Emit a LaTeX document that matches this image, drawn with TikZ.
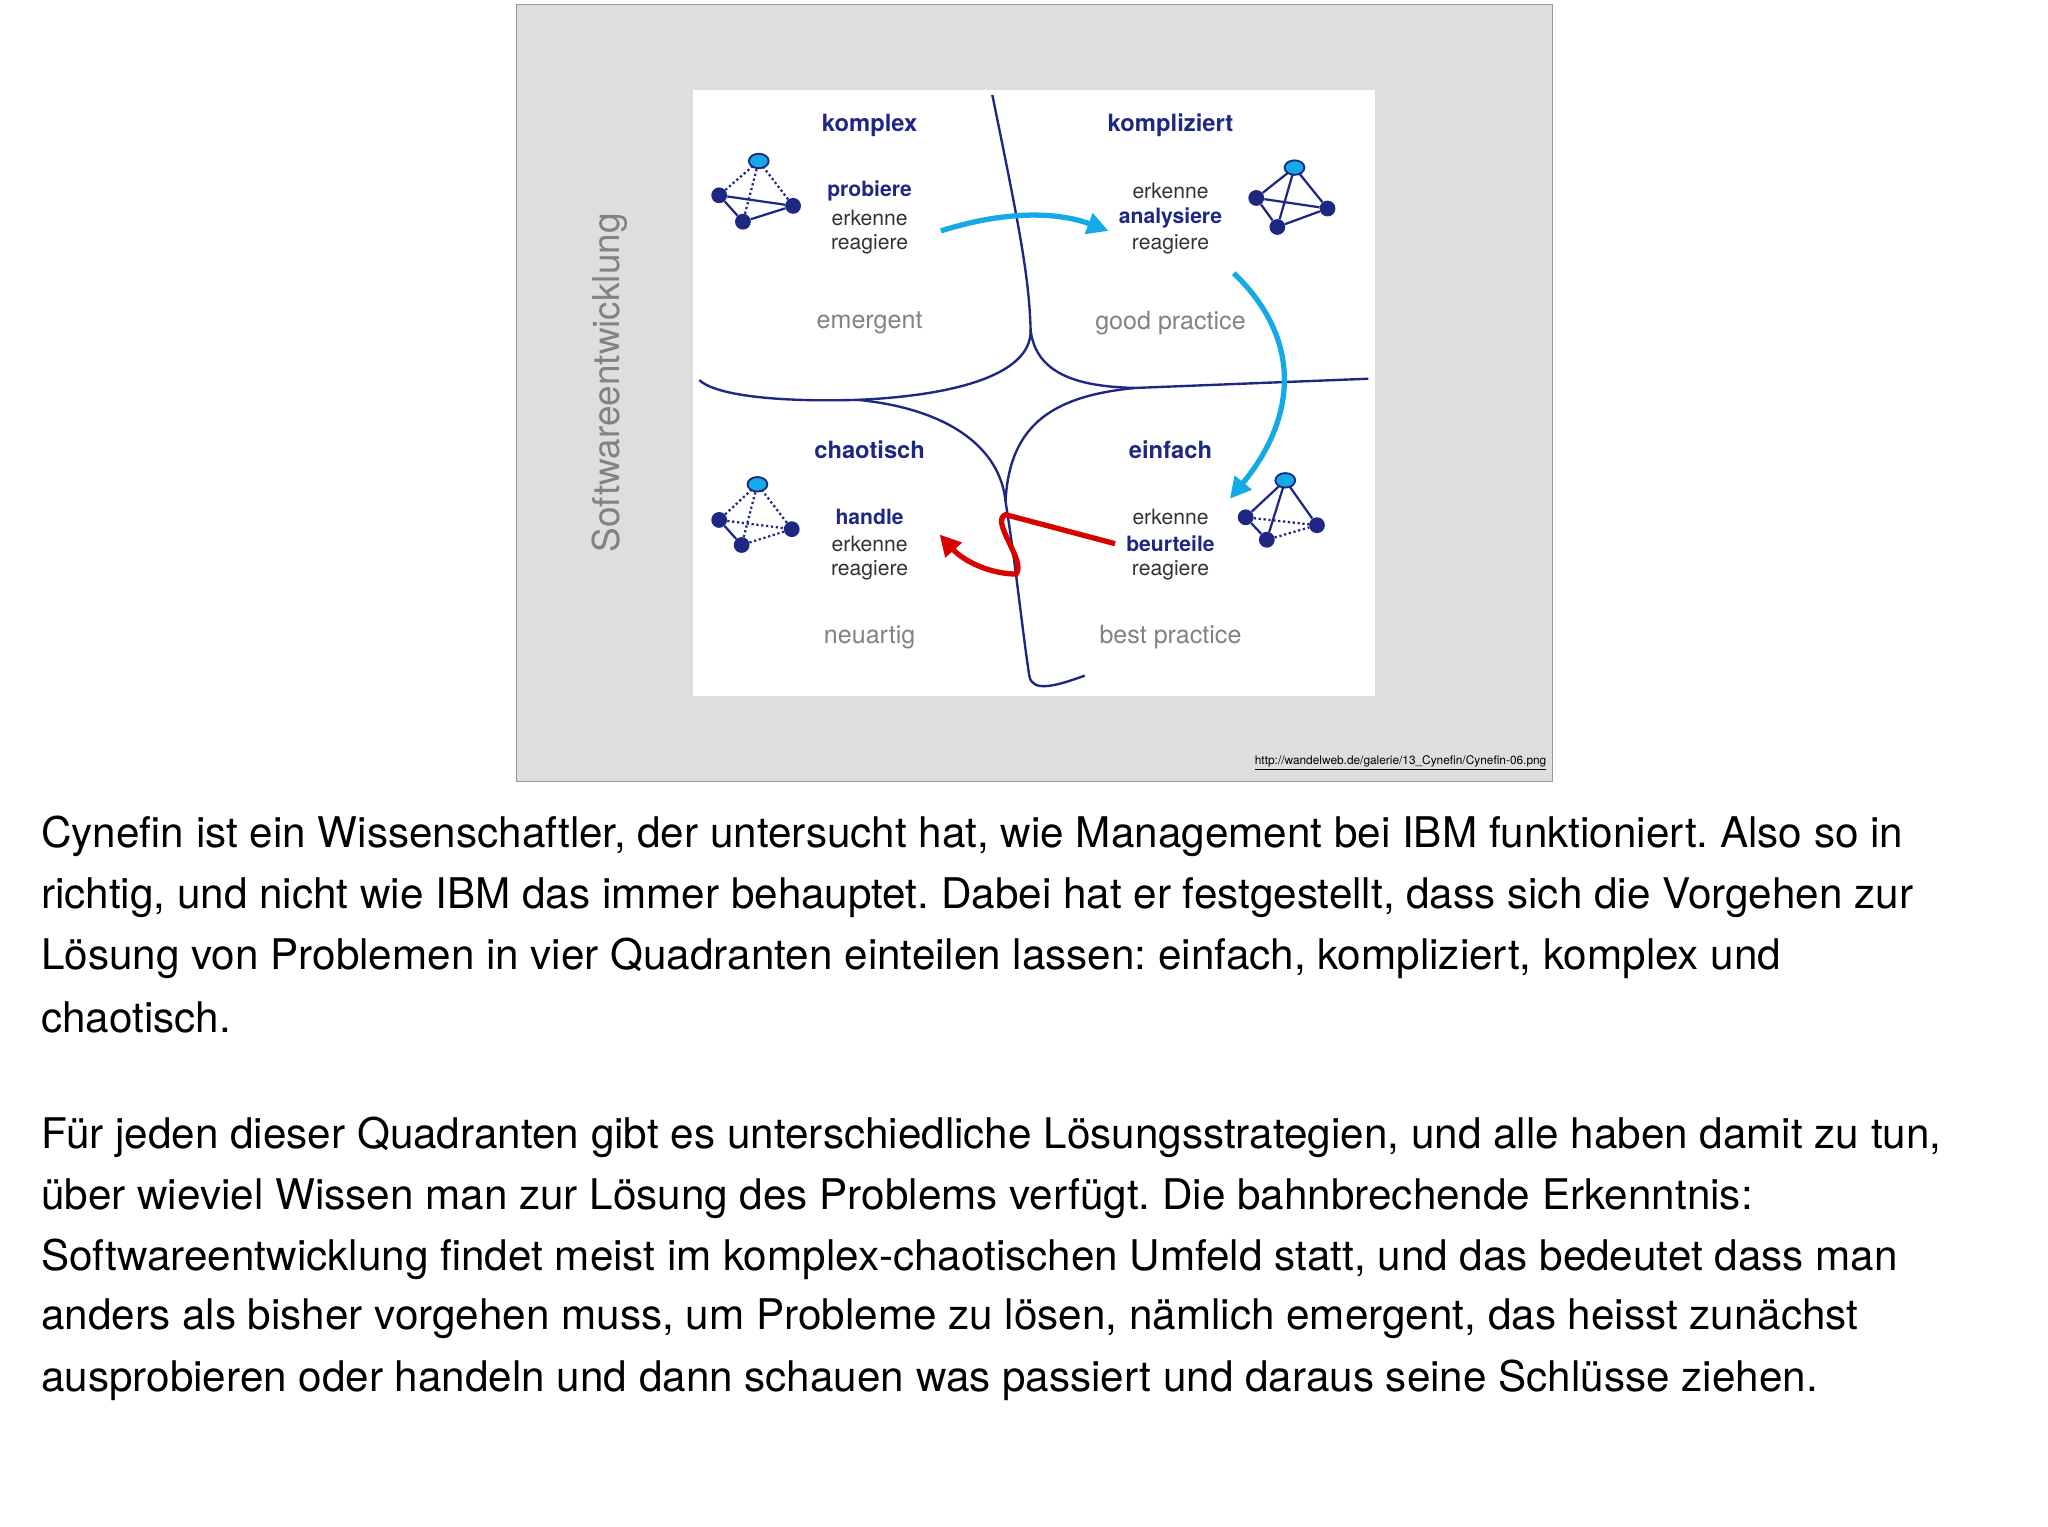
\documentclass[tikz,border=0pt]{standalone}
\usepackage{fontspec}
\setmainfont{TeX Gyre Heros}
\usetikzlibrary{arrows.meta,shapes.geometric}
\definecolor{dblue}{RGB}{30,40,130}
\definecolor{cyanb}{RGB}{20,170,230}
\definecolor{lgray}{RGB}{222,222,222}
\definecolor{tgray}{RGB}{130,130,130}
\frenchspacing
\begin{document}
\begin{tikzpicture}[x=1pt,y=-1pt,
 body/.style={anchor=west,inner sep=0pt,font=\fontsize{32}{32}\selectfont},
 qhead/.style={font=\fontsize{18}{18}\selectfont\bfseries,text=dblue},
 item/.style={font=\fontsize{16}{16}\selectfont,text=black!80},
 hitem/.style={font=\fontsize{16}{16}\selectfont\bfseries,text=dblue},
 gitem/.style={font=\fontsize{19}{19}\selectfont,text=tgray},
 line/.style={draw=dblue,line width=1.8pt},
 vtx/.style={circle,fill=dblue,inner sep=0pt,minimum size=12pt},
 apex/.style={ellipse,fill=cyanb,draw=dblue,line width=1.4pt,inner sep=0pt,minimum width=15pt,minimum height=11pt},
 sol/.style={draw=dblue,line width=1.7pt},
 dot/.style={draw=dblue,line width=1.7pt,dotted}]
\useasboundingbox (0,0) rectangle (1552,1157);
\fill[white] (0,0) rectangle (1552,1157);
\node[draw=gray!80,fill=lgray,minimum width=785pt,minimum height=589pt,anchor=north west,inner sep=0pt] (frame) at (391,3) {};
\node[fill=white,minimum width=517pt,minimum height=459pt,anchor=north west,inner sep=0pt] (inner) at (525,68) {};
\node[rotate=90,text=tgray,font=\fontsize{28}{28}\selectfont] (sw) at (462,290) {Softwareentwicklung};
\node[anchor=east,font=\fontsize{9}{9}\selectfont,inner sep=0pt] (url) at (1172,578) {\underline{http://wandelweb.de/galerie/13\_Cynefin/Cynefin-06.png}};
% boundaries
\coordinate (t0) at (752,72); \coordinate (tc) at (781,250);
\coordinate (lj) at (650,303); \coordinate (rj) at (860,294);
\coordinate (bc) at (762,380);
\draw[line] (t0) .. controls (772,170) and (780,210) .. (tc) .. controls (782,285) and (720,300) .. (lj) .. controls (580,305) and (540,298) .. (530,288);
\draw[line] (tc) .. controls (785,285) and (820,293) .. (rj) -- (1037,287);
\draw[line] (lj) .. controls (720,310) and (758,340) .. (bc) .. controls (770,430) and (775,480) .. (780,512) .. controls (782,525) and (800,520) .. (822,512);
\draw[line] (rj) .. controls (800,300) and (765,320) .. (bc);
% labels
\node[qhead] (k1) at (659,95) {komplex};
\node[qhead] (k2) at (887,95) {kompliziert};
\node[qhead] (k3) at (659,341) {chaotisch};
\node[qhead] (k4) at (887,341) {einfach};
\node[hitem] (a1) at (659,145) {probiere};
\node[item] (a2) at (659,165) {erkenne};
\node[item] (a3) at (659,185) {reagiere};
\node[item] (b1) at (887,145) {erkenne};
\node[hitem] (b2) at (887,165) {analysiere};
\node[item] (b3) at (887,185) {reagiere};
\node[hitem] (c1) at (659,392) {handle};
\node[item] (c2) at (659,412) {erkenne};
\node[item] (c3) at (659,432) {reagiere};
\node[item] (d1) at (887,392) {erkenne};
\node[hitem] (d2) at (887,412) {beurteile};
\node[item] (d3) at (887,432) {reagiere};
\node[gitem] (g1) at (659,245) {emergent};
\node[gitem] (g2) at (887,245) {good practice};
\node[gitem] (g3) at (659,483) {neuartig};
\node[gitem] (g4) at (887,483) {best practice};
% arrows
\draw[cyanb,line width=4pt,-{Triangle[length=16pt,width=16pt]}] (713,175) .. controls (760,160) and (800,160) .. (840,175);
\draw[cyanb,line width=4pt,-{Triangle[length=16pt,width=16pt]}] (935,207) .. controls (990,260) and (980,320) .. (932,378);
\draw[red!85!black,line width=4pt,-{Triangle[length=16pt,width=16pt]}] (845,412) -- (762,390) .. controls (750,395) and (778,425) .. (770,435) .. controls (750,435) and (730,425) .. (712,405);
% icons
\foreach \n/\ax/\ay/\lx/\ly/\rx/\ry/\bx/\by in {p/575/122/545/148/601/156/563/168,q/981/127/952/150/1006/158/968/172,r/574/367/545/394/600/401/562/413,s/974/364/944/392/998/398/960/409}{
 \node[vtx] (\n l) at (\lx,\ly) {};
 \node[vtx] (\n r) at (\rx,\ry) {};
 \node[vtx] (\n b) at (\bx,\by) {};
}
\draw[dot] (pl)--(575,122) (pb)--(575,122) (pr)--(575,122);
\draw[sol] (pl)--(pr) (pl)--(pb) (pb)--(pr);
\draw[sol] (ql)--(981,127) (qb)--(981,127) (qr)--(981,127) (ql)--(qr) (ql)--(qb) (qb)--(qr);
\draw[dot] (rl)--(574,367) (rb)--(574,367) (rr)--(574,367) (rl)--(rr) (rb)--(rr);
\draw[sol] (rl)--(rb);
\draw[sol] (sl)--(974,364) (sb)--(974,364) (sr)--(974,364) (sl)--(sb);
\draw[dot] (sl)--(sr) (sb)--(sr);
\node[apex] (pa) at (575,122) {};
\node[apex] (qa) at (981,127) {};
\node[apex] (ra) at (574,367) {};
\node[apex] (sa) at (974,364) {};
% body
\node[body] (l1) at (31,634) {Cynefin ist ein Wissenschaftler, der untersucht hat, wie Management bei IBM funktioniert. Also so in};
\node[body] (l2) at (31,680) {richtig, und nicht wie IBM das immer behauptet. Dabei hat er festgestellt, dass sich die Vorgehen zur};
\node[body] (l3) at (31,726) {Lösung von Problemen in vier Quadranten einteilen lassen: einfach, kompliziert, komplex und};
\node[body] (l4) at (31,771) {chaotisch.};
\node[body] (m1) at (31,862) {Für jeden dieser Quadranten gibt es unterschiedliche Lösungsstrategien, und alle haben damit zu tun,};
\node[body] (m2) at (31,908) {über wieviel Wissen man zur Lösung des Problems verfügt. Die bahnbrechende Erkenntnis:};
\node[body] (m3) at (31,954) {Softwareentwicklung findet meist im komplex-chaotischen Umfeld statt, und das bedeutet dass man};
\node[body] (m4) at (31,999) {anders als bisher vorgehen muss, um Probleme zu lösen, nämlich emergent, das heisst zunächst};
\node[body] (m5) at (31,1046) {ausprobieren oder handeln und dann schauen was passiert und daraus seine Schlüsse ziehen.};
\end{tikzpicture}
\end{document}
